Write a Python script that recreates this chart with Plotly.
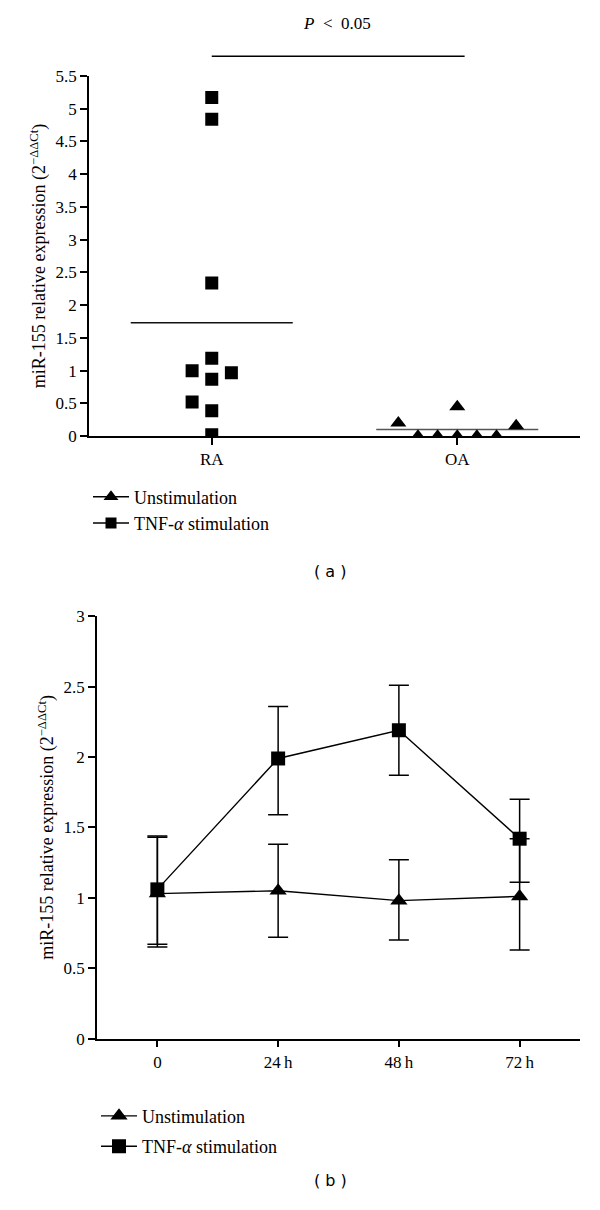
import numpy as np
import plotly.graph_objects as go

# ---------------- Data: panel (a) ----------------
groups_a = ["RA", "OA"]
ra_values = [5.17, 4.84, 2.34, 1.19, 0.87, 0.39, 0.02, 1.00, 0.52, 0.97]
oa_values = [0.20, 0.00, 0.00, 0.00, 0.45, 0.00, 0.00, 0.16]
# horizontal jitter of the dots inside each group (category units)
ra_jitter = [0, 0, 0, 0, 0, 0, 0, -0.08, -0.08, 0.08]
oa_jitter = [-0.24, -0.16, -0.08, 0, 0, 0.08, 0.16, 0.24]
p_label = "<i>P</i>\u2002&lt;\u20020.05"

# ---------------- Data: panel (b) ----------------
times_b = ["0", "24\u2009h", "48\u2009h", "72\u2009h"]
unstim_mean = [1.03, 1.05, 0.98, 1.01]
unstim_upper = [1.43, 1.38, 1.27, 1.42]
unstim_lower = [0.65, 0.72, 0.70, 0.63]
tnf_mean = [1.06, 1.99, 2.19, 1.42]
tnf_upper = [1.44, 2.36, 2.51, 1.70]
tnf_lower = [0.67, 1.59, 1.87, 1.11]

name_unstim = "Unstimulation"
name_tnf = "TNF-<i>α</i> stimulation"
ytitle = "miR-155 relative expression (2<sup>−ΔΔCt</sup>)"

W, H = 600, 1210
SERIF = "Liberation Serif, Times New Roman, serif"
SANS = "DejaVu Sans, Liberation Sans, sans-serif"

def px_x(a, b):
    return [a / W, b / W]

def px_y(top, bottom):
    return [1 - bottom / H, 1 - top / H]

fig = go.Figure()

# ---- panel (a) traces ----
ra_x = [0 + j for j in ra_jitter]
oa_x = [1 + j for j in oa_jitter]
ra_mean = float(np.mean(ra_values))
oa_mean = float(np.mean(oa_values))
half = 0.33

fig.add_trace(go.Scatter(x=[-half, half], y=[ra_mean, ra_mean], mode="lines",
                         line=dict(color="#111", width=1.5), showlegend=False,
                         xaxis="x", yaxis="y", hoverinfo="skip"))
fig.add_trace(go.Scatter(x=[1 - half, 1 + half], y=[oa_mean, oa_mean], mode="lines",
                         line=dict(color="#555", width=1.5), showlegend=False,
                         xaxis="x", yaxis="y", hoverinfo="skip"))
fig.add_trace(go.Scatter(x=ra_x, y=ra_values, mode="markers",
                         marker=dict(symbol="square", size=13, color="black"),
                         showlegend=False, xaxis="x", yaxis="y"))
fig.add_trace(go.Scatter(x=oa_x, y=oa_values, mode="markers",
                         marker=dict(symbol="triangle-up", size=14, color="black"),
                         showlegend=False, xaxis="x", yaxis="y"))
# legend entries for (a)
fig.add_trace(go.Scatter(x=[None], y=[None], mode="lines+markers", name=name_unstim,
                         line=dict(color="black", width=1.5),
                         marker=dict(symbol="triangle-up", size=13, color="black"),
                         xaxis="x", yaxis="y", legend="legend", legendgroup="a1"))
fig.add_trace(go.Scatter(x=[None], y=[None], mode="lines+markers", name=name_tnf,
                         line=dict(color="black", width=1.5),
                         marker=dict(symbol="square", size=11, color="black"),
                         xaxis="x", yaxis="y", legend="legend", legendgroup="a2"))

# ---- panel (b) traces ----
xb = list(range(len(times_b)))

def errs(mean, up, lo):
    return ([u - m for u, m in zip(up, mean)], [m - l for m, l in zip(mean, lo)])

ue_p, ue_m = errs(unstim_mean, unstim_upper, unstim_lower)
te_p, te_m = errs(tnf_mean, tnf_upper, tnf_lower)

fig.add_trace(go.Scatter(x=xb, y=unstim_mean, mode="lines+markers", name=name_unstim,
                         line=dict(color="black", width=1.4),
                         marker=dict(symbol="triangle-up", size=15, color="black"),
                         error_y=dict(type="data", symmetric=False, array=ue_p, arrayminus=ue_m,
                                      color="black", thickness=1.5, width=10),
                         xaxis="x2", yaxis="y2", legend="legend2", legendgroup="b1"))
fig.add_trace(go.Scatter(x=xb, y=tnf_mean, mode="lines+markers", name=name_tnf,
                         line=dict(color="black", width=1.4),
                         marker=dict(symbol="square", size=14, color="black"),
                         error_y=dict(type="data", symmetric=False, array=te_p, arrayminus=te_m,
                                      color="black", thickness=1.5, width=10),
                         xaxis="x2", yaxis="y2", legend="legend2", legendgroup="b2"))

axis_common = dict(showline=True, linecolor="black", linewidth=1.5, showgrid=False,
                   zeroline=False, ticks="outside", ticklen=7, tickwidth=1.5,
                   tickcolor="black", tickfont=dict(family=SERIF, size=17, color="black"))

fig.update_layout(
    width=W, height=H,
    margin=dict(l=0, r=0, t=0, b=0),
    paper_bgcolor="white", plot_bgcolor="white",
    font=dict(family=SERIF, color="black"),
    xaxis=dict(domain=px_x(89, 580), range=[-0.5, 1.5], tickvals=[0, 1],
               ticktext=groups_a, anchor="y", **axis_common),
    yaxis=dict(domain=px_y(68, 434), range=[0, 5.5], dtick=0.5, anchor="x",
               title=dict(text=ytitle, font=dict(family=SERIF, size=18), standoff=5),
               **axis_common),
    xaxis2=dict(domain=px_x(97, 580), range=[-0.5, 3.5], tickvals=xb,
                ticktext=times_b, anchor="y2", **axis_common),
    yaxis2=dict(domain=px_y(617, 1046), range=[0, 3], dtick=0.5, anchor="x2",
                title=dict(text=ytitle, font=dict(family=SERIF, size=18), standoff=5),
                **axis_common),
    legend=dict(x=88 / W, y=1 - 477 / H, xanchor="left", yanchor="top",
                font=dict(family=SERIF, size=18), bgcolor="rgba(0,0,0,0)",
                tracegroupgap=0, itemwidth=36),
    legend2=dict(x=96 / W, y=1 - 1106 / H, xanchor="left", yanchor="top",
                 font=dict(family=SERIF, size=18), bgcolor="rgba(0,0,0,0)",
                 tracegroupgap=4, itemwidth=36),
    shapes=[dict(type="line", xref="x", yref="paper", x0=0, x1=1.03,
                 y0=1 - 48 / H, y1=1 - 48 / H, line=dict(color="black", width=1.5))],
    annotations=[
        dict(text=p_label, xref="x", yref="paper", x=0.51, y=1 - 15 / H,
             showarrow=False, font=dict(family=SERIF, size=17), xanchor="center", yanchor="middle"),
        dict(text="( a )", xref="paper", yref="paper", x=330 / W, y=1 - 571 / H,
             showarrow=False, font=dict(family=SANS, size=16), xanchor="center", yanchor="middle"),
        dict(text="( b )", xref="paper", yref="paper", x=330 / W, y=1 - 1190 / H,
             showarrow=False, font=dict(family=SANS, size=16), xanchor="center", yanchor="middle"),
    ],
)

fig.write_html("out.html", config={"displayModeBar": False},
               post_script="document.body.style.margin='0';document.body.style.overflow='hidden';")
